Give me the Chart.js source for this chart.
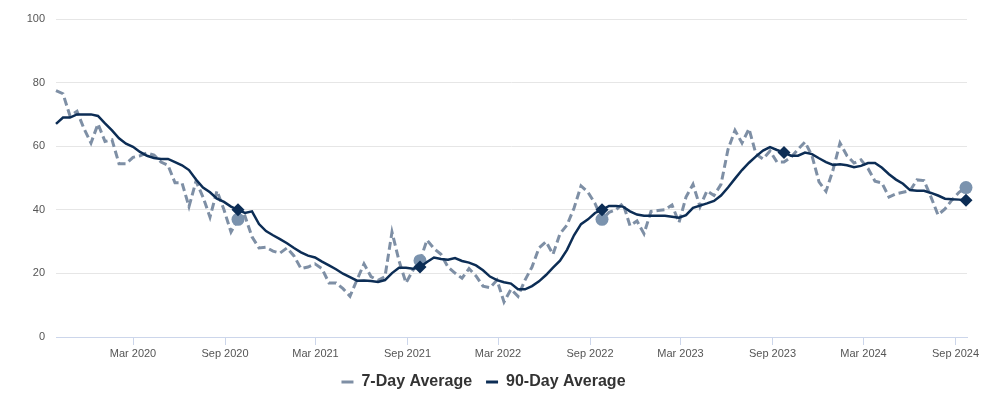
<!DOCTYPE html>
<html lang="en">
<head>
  <meta charset="UTF-8" />
  <title>7-Day and 90-Day Average</title>
  <script src="https://cdn.jsdelivr.net/npm/chart.js"></script>
  <style>
    body { margin: 0; background: #fff; }
    #wrap { width: 990px; height: 397px; }
  </style>
</head>
<body>
  <div id="wrap"><canvas id="avgChart"></canvas></div>

  <script>
    // one reading every 14 days, starting here
    const startDate = '2019-09-29';
    const stepDays = 14;

    const sevenDayAvg = [
      77.5, 76.5, 69.5, 71, 65.5, 61, 67, 61.5, 62, 54.5,
      54.5, 56.5, 57, 57.9, 57.2, 55, 54, 48.5, 48.5, 41,
      49, 44, 37.7, 46, 40, 33, 37, 38, 31.5, 28,
      28.2, 27, 26.4, 28, 25.5, 21.5, 22, 23, 21.5, 17,
      17, 15.2, 12.8, 18, 23, 19, 17.8, 19, 33, 24,
      17, 21, 24, 30.5, 27.8, 26, 22, 20.1, 18.5, 21.5,
      19.2, 16, 15.5, 17.9, 11, 15, 12.8, 17.9, 22, 28,
      30, 26, 32.5, 35.2, 40.5, 47.5, 45.5, 42, 37, 39.2,
      40, 42, 35, 36.5, 32.5, 39.5, 39.8, 40, 41.5, 36,
      44, 48, 41, 46, 44.5, 48, 59, 65, 61, 65.5,
      57.5, 56, 58.5, 55, 55, 56.5, 59, 61.3, 57, 48.8,
      45.8, 52.5, 61, 57, 54.7, 55.7, 53, 49, 48.4, 44,
      45, 45.5, 46, 49.4, 49.2, 44, 38.4, 40.3, 43.1, 45.5,
      47
    ];

    const ninetyDayAvg = [
      67, 69, 69, 70, 70, 70, 69.5, 67.2, 65, 62.5,
      60.8, 59.8, 58.2, 57, 56.3, 56, 56, 55, 54, 52.5,
      49.5, 47, 45.5, 43.5, 42.5, 41, 40, 39, 39.5, 35.5,
      33.3, 32, 30.8, 29.5, 28, 26.6, 25.6, 25, 23.7, 22.5,
      21.3, 19.9, 18.8, 17.7, 17.8, 17.6, 17.3, 17.9, 20.1, 21.8,
      21.8, 21.5, 22, 23.6, 25, 24.5, 24.3, 24.8, 23.9, 23.4,
      22.5, 21, 19, 17.9, 17.2, 16.8, 15, 15, 16, 17.5,
      19.5, 21.8, 24, 27.4, 32, 35.5, 37, 39, 40, 41.2,
      41.2, 41, 39.5, 38.5, 38.1, 38.1, 38.1, 38.1, 37.8, 37.5,
      38.3, 40.6, 41.3, 42, 42.8, 44.5, 47, 49.8, 52.5, 54.8,
      56.8, 58.6, 59.7, 58.8, 58, 57, 57, 58, 57.5, 56.2,
      55, 54.1, 54.3, 54, 53.4, 53.8, 54.7, 54.7, 53.2, 51.2,
      49.5, 48.2, 46.2, 46, 46, 45.3, 44.5, 43.5, 43.3, 43.2,
      43
    ];

    // indices that get a marker (same week in earlier years)
    const sevenDayMarkers = [26, 52, 78, 130];
    const ninetyDayMarkers = [26, 52, 78, 104, 130];

    const tickDates = ['2020-03-01', '2020-09-01', '2021-03-01', '2021-09-01', '2022-03-01',
                       '2022-09-01', '2023-03-01', '2023-09-01', '2024-03-01', '2024-09-01'];
    const tickLabels = ['Mar 2020', 'Sep 2020', 'Mar 2021', 'Sep 2021', 'Mar 2022',
                        'Sep 2022', 'Mar 2023', 'Sep 2023', 'Mar 2024', 'Sep 2024'];
    const axisStart = '2019-09-29';
    const axisEnd = '2024-09-24';

    const DAY = 86400000;
    const toMs = s => Date.parse(s + 'T00:00:00Z');
    const toPoints = values => values.map((v, i) => ({ x: toMs(startDate) + i * stepDays * DAY, y: v }));

    const lightColor = '#7e8fa5';
    const markerLight = '#7b93ae';
    const darkColor = '#0c2d55';
    const fontFamily = 'Liberation Sans, Arial, sans-serif';

    new Chart(document.getElementById('avgChart'), {
      type: 'line',
      data: {
        datasets: [
          {
            label: '7-Day Average',
            data: toPoints(sevenDayAvg),
            borderColor: lightColor,
            backgroundColor: lightColor,
            borderWidth: 3,
            borderDash: [8, 4],
            tension: 0,
            order: 1,
            clip: false,
            pointRadius: c => sevenDayMarkers.includes(c.dataIndex) ? 6.5 : 0,
            pointStyle: 'circle',
            pointBackgroundColor: markerLight,
            pointBorderWidth: 0
          },
          {
            label: '90-Day Average',
            data: toPoints(ninetyDayAvg),
            borderColor: darkColor,
            backgroundColor: darkColor,
            borderWidth: 2.5,
            tension: 0,
            order: 0,
            clip: false,
            pointRadius: c => ninetyDayMarkers.includes(c.dataIndex) ? 6.5 : 0,
            pointStyle: 'rectRot',
            pointBackgroundColor: darkColor,
            pointBorderWidth: 0
          }
        ]
      },
      options: {
        responsive: true,
        maintainAspectRatio: false,
        animation: false,
        // small negative bottom padding pulls the legend down to where the original sits
        layout: { padding: { top: 19, right: 23, bottom: -3, left: 0 } },
        plugins: {
          tooltip: { enabled: false },
          legend: {
            position: 'bottom',
            labels: {
              boxWidth: 12,
              boxHeight: 3,
              padding: 14,
              color: '#333',
              font: { family: fontFamily, size: 16, weight: 'bold' },
              sort: (a, b) => a.datasetIndex - b.datasetIndex,
              generateLabels: chart =>
                Chart.defaults.plugins.legend.labels.generateLabels(chart)
                  .map(item => ({ ...item, lineDash: [], lineWidth: 0 }))
            }
          }
        },
        scales: {
          x: {
            type: 'linear',
            min: toMs(axisStart),
            max: toMs(axisEnd),
            afterBuildTicks: scale => {
              scale.ticks = tickDates.map(d => ({ value: toMs(d) }));
            },
            // labels are clipped to this box, so it has to hold them
            afterFit: scale => { scale.height = 23; },
            grid: { drawOnChartArea: false, drawTicks: true, tickLength: 8, color: '#ccd6eb' },
            border: { display: true, color: '#ccd6eb' },
            ticks: {
              autoSkip: false,
              maxRotation: 0,
              padding: 2,
              color: '#555',
              font: { family: fontFamily, size: 11 },
              callback: (value, index) => tickLabels[index]
            }
          },
          y: {
            min: 0,
            max: 100,
            afterFit: scale => { scale.width = 56; },
            afterBuildTicks: scale => {
              scale.ticks = [0, 20, 40, 60, 80, 100].map(v => ({ value: v }));
            },
            grid: { color: c => c.tick.value === 0 ? 'rgba(0,0,0,0)' : '#e6e6e6', drawTicks: false },
            border: { display: false },
            ticks: {
              padding: 11,
              color: '#555',
              font: { family: fontFamily, size: 11 }
            }
          }
        }
      }
    });
  </script>
</body>
</html>
